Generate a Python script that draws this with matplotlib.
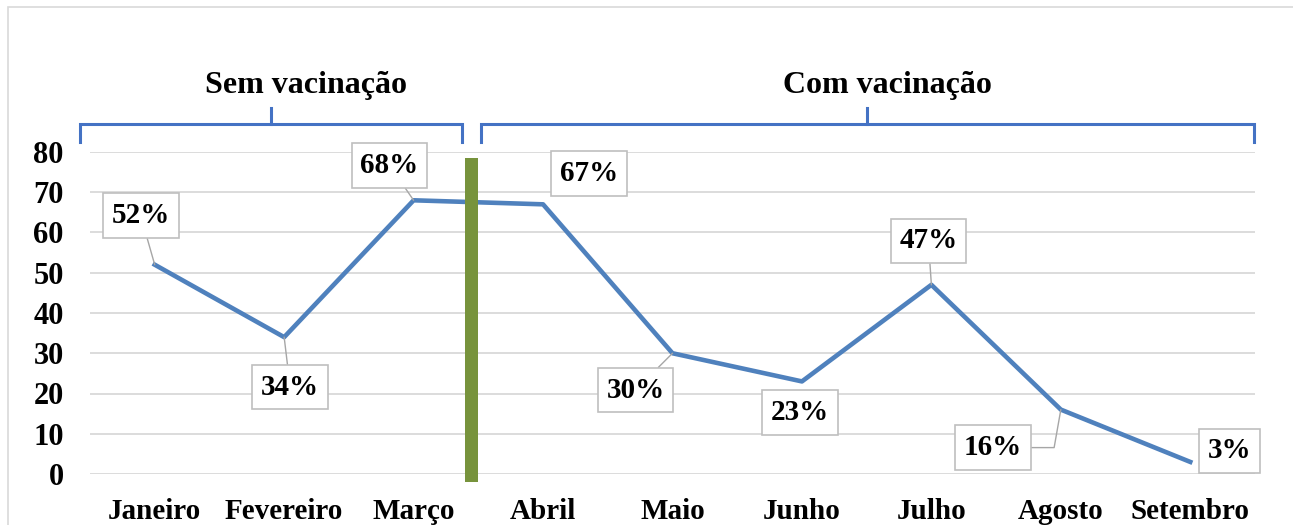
import matplotlib
matplotlib.use("Agg")
import matplotlib.pyplot as plt
import matplotlib.transforms as mtransforms
from matplotlib.patches import Rectangle

months = ["Janeiro", "Fevereiro", "Março", "Abril", "Maio", "Junho", "Julho", "Agosto", "Setembro"]
values = [52, 34, 68, 67, 30, 23, 47, 16, 3]
labels = ["52%", "34%", "68%", "67%", "30%", "23%", "47%", "16%", "3%"]
yticks = [0, 10, 20, 30, 40, 50, 60, 70, 80]
group_names = ["Sem vacinação", "Com vacinação"]

# label offsets in pixels (box centre relative to point) and whether a leader line is drawn
offsets = [(-14, 49), (6, -50), (-24, 35), (46, 31), (-37, -37), (-2, -31), (-3, 44), (-68, -38), (39, 11)]
leaders = [True, True, True, False, True, False, True, "elbow", False]

plt.rcParams['font.family'] = ['Liberation Serif', 'DejaVu Serif']

W, H = 1293, 525
fig = plt.figure(figsize=(W / 100, H / 100), dpi=100)
ax = fig.add_axes([90 / W, 1 - 474 / H, 1165 / W, 322 / H])

x = list(range(len(months)))
ax.plot(x, values, color="#4f81bd", lw=3.3, solid_joinstyle="round", zorder=3)

ax.set_xlim(-0.5, len(months) - 0.5)
ax.set_ylim(0, 80)
ax.set_yticks(yticks)
ax.set_yticklabels([str(v) for v in yticks], fontsize=22, fontweight="bold")
ax.set_xticks(x)
ax.set_xticklabels(months, fontsize=21, fontweight="bold")
ax.tick_params(axis="y", length=0, pad=19)
ax.tick_params(axis="x", length=0, pad=17)
ax.grid(axis="y", color="#d9d9d9", lw=1.3)
ax.set_axisbelow(True)
for s in ax.spines.values():
    s.set_visible(False)

# green separator bar between Março and Abril
ax.add_patch(Rectangle((2.40, -2), 0.10, 80.5, facecolor="#77933c", edgecolor="none",
                       zorder=5, clip_on=False))

# data labels
for xi, v, lab, off, ld in zip(x, values, labels, offsets, leaders):
    arrowprops = None
    if ld is True:
        arrowprops = dict(arrowstyle="-", color="#a6a6a6", lw=1.0, shrinkA=0, shrinkB=0)
    elif ld == "elbow":
        arrowprops = dict(arrowstyle="-", color="#a6a6a6", lw=1.0, shrinkA=0, shrinkB=0,
                          connectionstyle="angle,angleA=0,angleB=80,rad=0")
    ax.annotate(lab, xy=(xi, v), xytext=off, textcoords="offset pixels",
                ha="center", va="center", fontsize=21, fontweight="bold",
                bbox=dict(boxstyle="square,pad=0.3", fc="white", ec="#bfbfbf", lw=1.2),
                arrowprops=arrowprops, zorder=6)

# group brackets
trans = mtransforms.blended_transform_factory(ax.transData, ax.transAxes)
bcol = "#4472c4"
brackets = [(-0.577, 2.375, 0.899, 1.17), (2.52, 8.49, 5.50, 5.66)]
for (x0, x1, xm, xt), name in zip(brackets, group_names):
    ax.plot([x0, x0, x1, x1], [1.031, 1.087, 1.087, 1.031], color=bcol, lw=2.2,
            transform=trans, clip_on=False, solid_joinstyle="miter")
    ax.plot([xm, xm], [1.087, 1.137], color=bcol, lw=2.2, transform=trans, clip_on=False)
    ax.text(xt, 1.207, name, transform=trans, ha="center", va="center",
            fontsize=23, fontweight="bold")

# outer chart border (extends past the right and bottom edges)
fig.add_artist(Rectangle((8 / W, -0.05), 1.1, 1 - 6.5 / H + 0.05,
                         transform=fig.transFigure, fill=False, ec="#d9d9d9", lw=1.2))

fig.savefig("out.png", dpi=100)
